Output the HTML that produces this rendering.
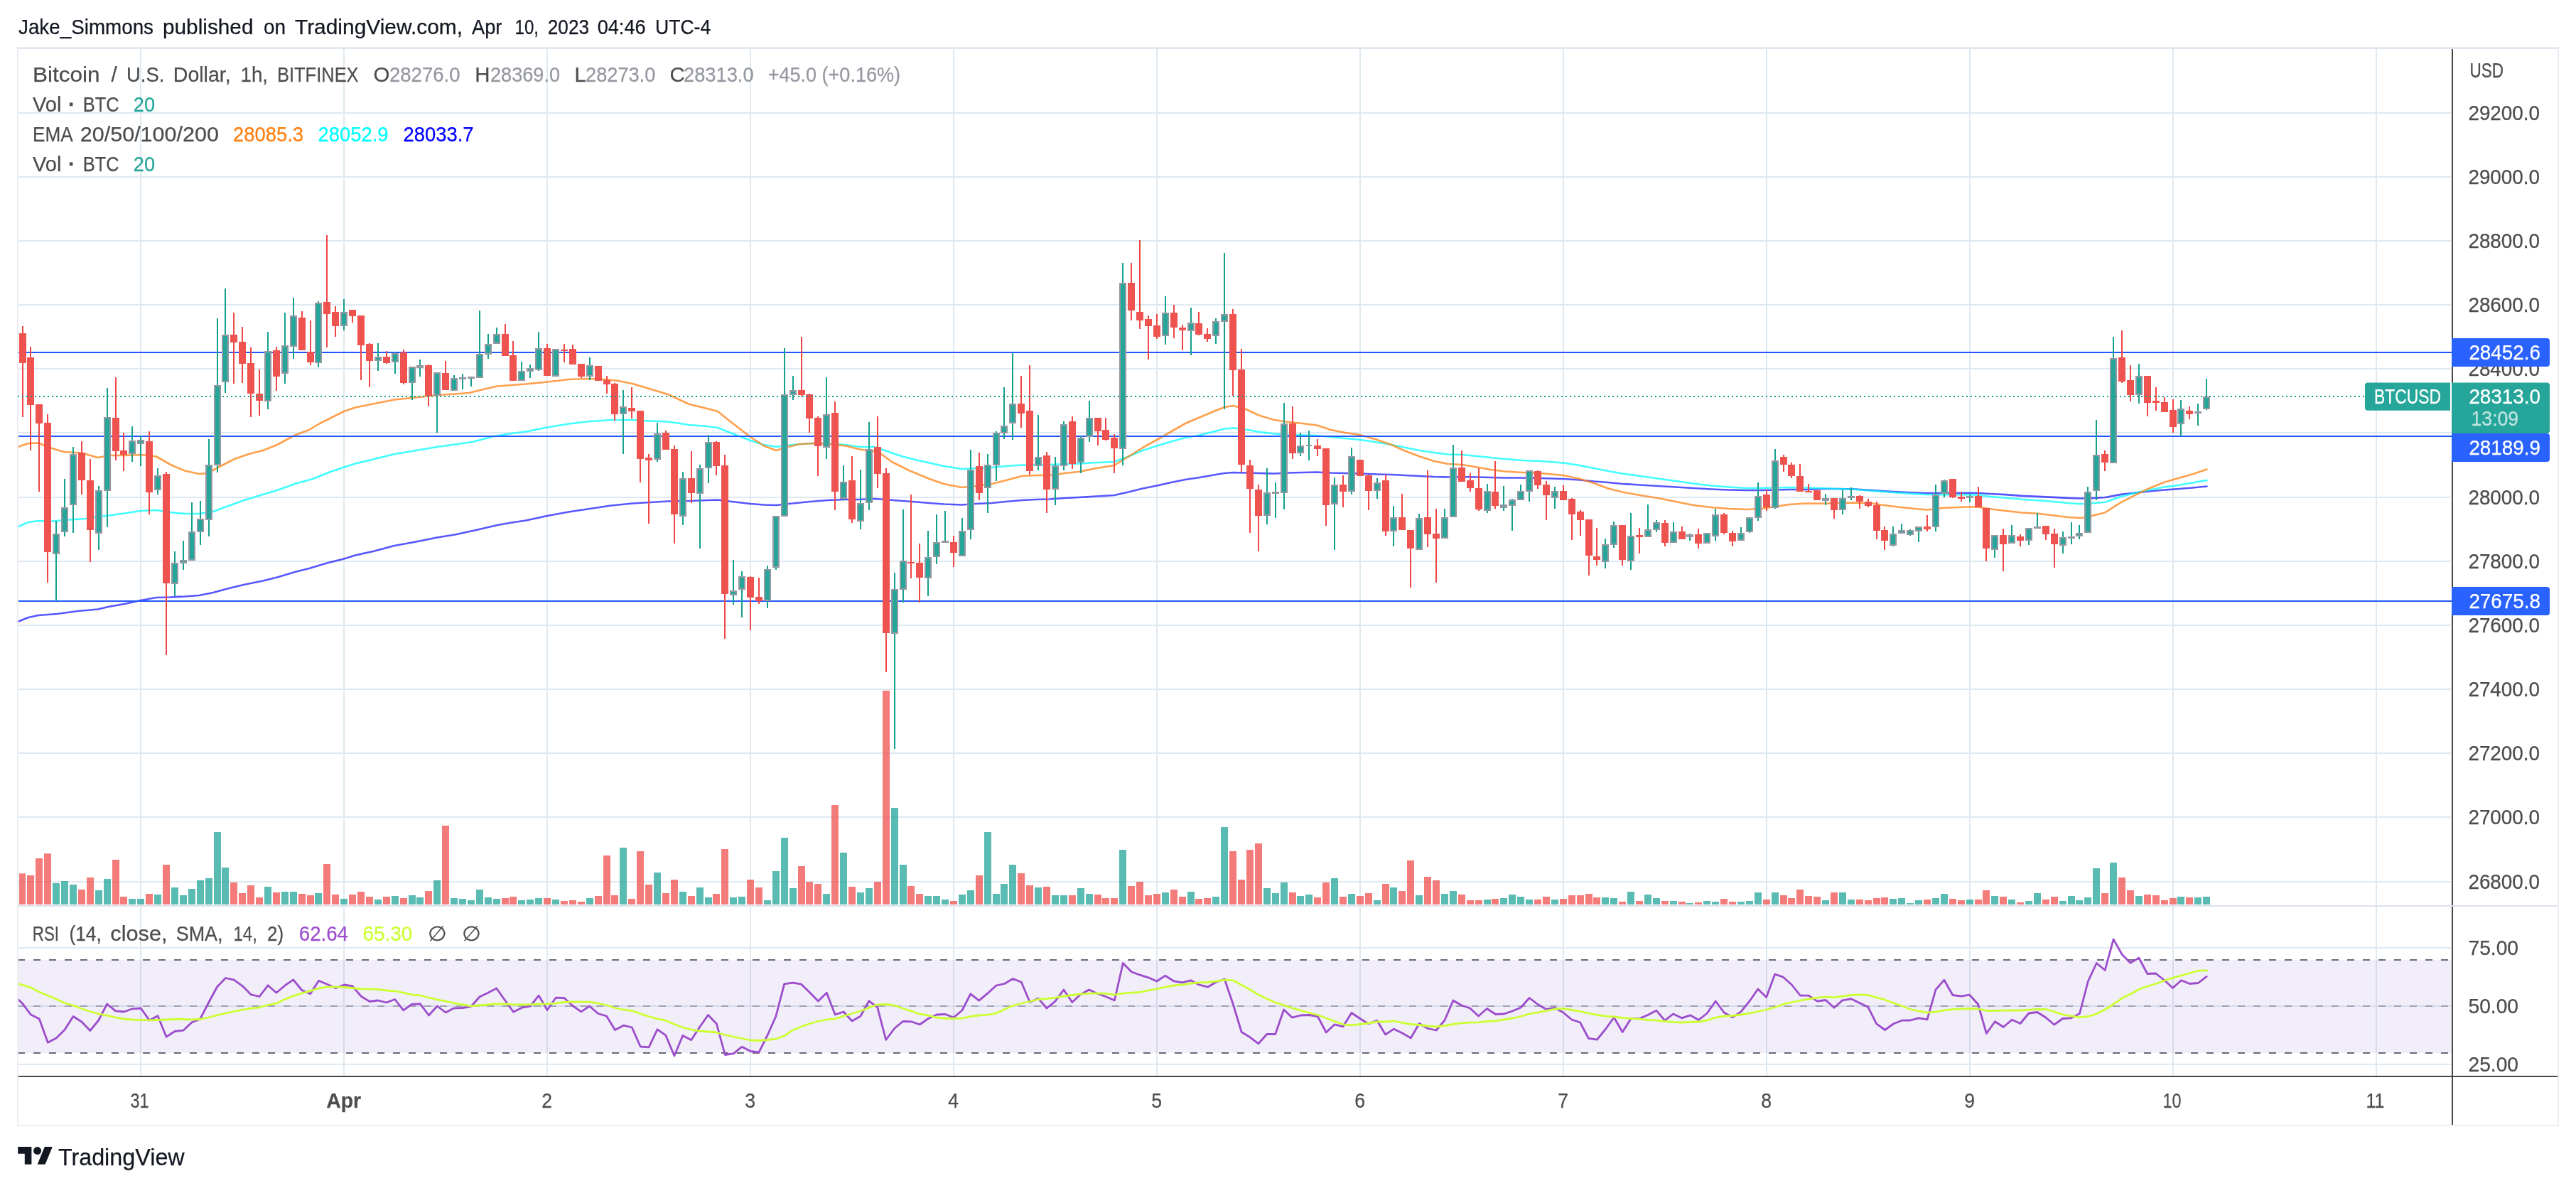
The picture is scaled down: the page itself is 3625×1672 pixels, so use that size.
<!DOCTYPE html>
<html lang="en"><head><meta charset="utf-8"><title>BTCUSD chart</title>
<style>html,body{margin:0;padding:0;background:#fff}body{width:3625px;height:1672px;overflow:hidden}svg{display:block;will-change:transform}text{white-space:pre}</style>
</head><body>
<svg width="3625" height="1672" viewBox="0 0 3625 1672" font-family='"Liberation Sans", sans-serif'>
<rect x="0" y="0" width="3625" height="1672" fill="#fff"/>
<path d="M198 68V1514M484 68V1514M770 68V1514M1056 68V1514M1342 68V1514M1628 68V1514M1914 68V1514M2200 68V1514M2486 68V1514M2772 68V1514M3058 68V1514M3344 68V1514M26 159H3449M26 249H3449M26 339H3449M26 429H3449M26 519H3449M26 609H3449M26 700H3449M26 790H3449M26 880H3449M26 970H3449M26 1060H3449M26 1150H3449M26 1241H3449M26 1334H3449M26 1416H3449M26 1498H3449" stroke="#dee9f1" stroke-width="2" fill="none"/>
<rect x="25" y="1351" width="3425" height="131" fill="#7e57c2" fill-opacity="0.1"/>
<path d="M27 1273.0v-43.8h9v43.8zM38 1273.0v-41.0h10v41.0zM50 1273.0v-65.0h10v65.0zM62 1273.0v-71.8h10v71.8zM110 1273.0v-21.0h10v21.0zM122 1273.0v-38.0h10v38.0zM158 1273.0v-63.0h10v63.0zM169 1273.0v-11.0h10v11.0zM205 1273.0v-15.0h10v15.0zM229 1273.0v-56.0h10v56.0zM324 1273.0v-31.0h10v31.0zM336 1273.0v-16.0h10v16.0zM348 1273.0v-27.0h10v27.0zM360 1273.0v-10.0h10v10.0zM384 1273.0v-17.0h10v17.0zM420 1273.0v-15.0h10v15.0zM432 1273.0v-13.0h10v13.0zM455 1273.0v-57.0h10v57.0zM467 1273.0v-14.0h10v14.0zM491 1273.0v-14.0h10v14.0zM503 1273.0v-18.0h10v18.0zM515 1273.0v-11.0h10v11.0zM539 1273.0v-11.0h10v11.0zM563 1273.0v-9.0h10v9.0zM598 1273.0v-19.0h10v19.0zM622 1273.0v-111.0h10v111.0zM706 1273.0v-9.0h10v9.0zM717 1273.0v-11.0h10v11.0zM765 1273.0v-9.0h10v9.0zM789 1273.0v-5.0h10v5.0zM801 1273.0v-6.0h10v6.0zM813 1273.0v-4.0h10v4.0zM837 1273.0v-12.0h10v12.0zM849 1273.0v-69.0h10v69.0zM860 1273.0v-13.0h10v13.0zM884 1273.0v-8.0h10v8.0zM896 1273.0v-75.0h10v75.0zM908 1273.0v-28.0h10v28.0zM932 1273.0v-16.0h10v16.0zM944 1273.0v-35.0h10v35.0zM968 1273.0v-12.0h10v12.0zM1003 1273.0v-15.0h10v15.0zM1015 1273.0v-78.0h10v78.0zM1051 1273.0v-35.0h10v35.0zM1063 1273.0v-24.0h10v24.0zM1123 1273.0v-54.0h10v54.0zM1134 1273.0v-32.0h10v32.0zM1146 1273.0v-29.0h10v29.0zM1170 1273.0v-140.0h10v140.0zM1194 1273.0v-25.0h10v25.0zM1230 1273.0v-32.0h10v32.0zM1242 1273.0v-301.0h10v301.0zM1277 1273.0v-26.0h10v26.0zM1289 1273.0v-15.0h10v15.0zM1337 1273.0v-5.0h10v5.0zM1373 1273.0v-41.0h10v41.0zM1432 1273.0v-44.0h10v44.0zM1444 1273.0v-27.0h10v27.0zM1468 1273.0v-25.0h10v25.0zM1504 1273.0v-13.0h10v13.0zM1540 1273.0v-14.0h10v14.0zM1551 1273.0v-9.0h10v9.0zM1563 1273.0v-9.0h10v9.0zM1587 1273.0v-26.0h10v26.0zM1599 1273.0v-32.0h10v32.0zM1611 1273.0v-13.0h10v13.0zM1623 1273.0v-15.0h10v15.0zM1647 1273.0v-21.0h10v21.0zM1659 1273.0v-11.0h10v11.0zM1682 1273.0v-8.0h10v8.0zM1694 1273.0v-9.0h10v9.0zM1730 1273.0v-75.0h10v75.0zM1742 1273.0v-35.0h10v35.0zM1754 1273.0v-77.0h10v77.0zM1766 1273.0v-86.0h10v86.0zM1814 1273.0v-17.0h10v17.0zM1849 1273.0v-10.0h10v10.0zM1861 1273.0v-31.0h10v31.0zM1885 1273.0v-11.0h10v11.0zM1909 1273.0v-12.0h10v12.0zM1921 1273.0v-16.0h10v16.0zM1945 1273.0v-29.0h10v29.0zM1968 1273.0v-19.0h10v19.0zM1980 1273.0v-62.0h10v62.0zM2004 1273.0v-39.0h10v39.0zM2016 1273.0v-34.0h10v34.0zM2052 1273.0v-14.0h10v14.0zM2064 1273.0v-6.0h10v6.0zM2076 1273.0v-6.0h10v6.0zM2099 1273.0v-8.0h10v8.0zM2159 1273.0v-7.0h10v7.0zM2171 1273.0v-11.0h10v11.0zM2195 1273.0v-8.0h10v8.0zM2207 1273.0v-13.0h10v13.0zM2219 1273.0v-13.0h10v13.0zM2231 1273.0v-15.0h10v15.0zM2242 1273.0v-10.0h10v10.0zM2278 1273.0v-4.0h10v4.0zM2302 1273.0v-5.0h10v5.0zM2338 1273.0v-5.0h10v5.0zM2362 1273.0v-4.0h10v4.0zM2385 1273.0v-3.0h10v3.0zM2421 1273.0v-8.0h10v8.0zM2433 1273.0v-4.0h10v4.0zM2481 1273.0v-7.0h10v7.0zM2505 1273.0v-13.0h10v13.0zM2516 1273.0v-9.0h10v9.0zM2528 1273.0v-21.0h10v21.0zM2540 1273.0v-12.0h10v12.0zM2552 1273.0v-11.0h10v11.0zM2576 1273.0v-17.0h10v17.0zM2612 1273.0v-7.0h10v7.0zM2624 1273.0v-6.0h10v6.0zM2636 1273.0v-9.0h10v9.0zM2647 1273.0v-10.0h10v10.0zM2707 1273.0v-7.0h10v7.0zM2743 1273.0v-8.0h10v8.0zM2755 1273.0v-6.0h10v6.0zM2779 1273.0v-7.0h10v7.0zM2790 1273.0v-20.0h10v20.0zM2814 1273.0v-11.0h10v11.0zM2838 1273.0v-3.0h10v3.0zM2874 1273.0v-7.0h10v7.0zM2886 1273.0v-11.0h10v11.0zM2957 1273.0v-16.0h10v16.0zM2981 1273.0v-38.0h10v38.0zM2993 1273.0v-20.0h10v20.0zM3017 1273.0v-14.0h10v14.0zM3029 1273.0v-13.0h10v13.0zM3041 1273.0v-6.0h10v6.0zM3053 1273.0v-9.0h10v9.0zM3076 1273.0v-10.0h10v10.0z" fill="#ef5350" fill-opacity="0.76"/>
<path d="M74 1273.0v-30.0h10v30.0zM86 1273.0v-33.0h10v33.0zM98 1273.0v-28.0h10v28.0zM134 1273.0v-20.0h10v20.0zM146 1273.0v-36.0h10v36.0zM181 1273.0v-8.0h10v8.0zM193 1273.0v-8.0h10v8.0zM217 1273.0v-14.0h10v14.0zM241 1273.0v-24.0h10v24.0zM253 1273.0v-13.0h10v13.0zM265 1273.0v-22.0h10v22.0zM277 1273.0v-34.0h10v34.0zM289 1273.0v-37.0h10v37.0zM301 1273.0v-102.0h10v102.0zM312 1273.0v-52.0h10v52.0zM372 1273.0v-25.0h10v25.0zM396 1273.0v-18.0h10v18.0zM408 1273.0v-18.0h10v18.0zM443 1273.0v-16.0h10v16.0zM479 1273.0v-8.0h10v8.0zM527 1273.0v-7.0h10v7.0zM551 1273.0v-12.0h10v12.0zM575 1273.0v-13.0h10v13.0zM586 1273.0v-10.0h10v10.0zM610 1273.0v-34.0h10v34.0zM634 1273.0v-9.0h10v9.0zM646 1273.0v-8.0h10v8.0zM658 1273.0v-6.0h10v6.0zM670 1273.0v-21.0h10v21.0zM682 1273.0v-10.0h10v10.0zM694 1273.0v-8.0h10v8.0zM729 1273.0v-6.0h10v6.0zM741 1273.0v-7.0h10v7.0zM753 1273.0v-9.0h10v9.0zM777 1273.0v-7.0h10v7.0zM825 1273.0v-9.0h10v9.0zM872 1273.0v-80.0h10v80.0zM920 1273.0v-45.0h10v45.0zM956 1273.0v-18.0h10v18.0zM980 1273.0v-24.0h10v24.0zM992 1273.0v-10.0h10v10.0zM1027 1273.0v-10.0h10v10.0zM1039 1273.0v-11.0h10v11.0zM1075 1273.0v-6.0h10v6.0zM1087 1273.0v-47.0h10v47.0zM1099 1273.0v-94.0h10v94.0zM1111 1273.0v-23.0h10v23.0zM1158 1273.0v-15.0h10v15.0zM1182 1273.0v-73.0h10v73.0zM1206 1273.0v-17.0h10v17.0zM1218 1273.0v-23.0h10v23.0zM1254 1273.0v-136.0h10v136.0zM1266 1273.0v-56.0h10v56.0zM1301 1273.0v-12.0h10v12.0zM1313 1273.0v-12.0h10v12.0zM1325 1273.0v-7.0h10v7.0zM1349 1273.0v-14.0h10v14.0zM1361 1273.0v-20.0h10v20.0zM1385 1273.0v-102.0h10v102.0zM1397 1273.0v-15.0h10v15.0zM1408 1273.0v-29.0h10v29.0zM1420 1273.0v-56.0h10v56.0zM1456 1273.0v-24.0h10v24.0zM1480 1273.0v-13.0h10v13.0zM1492 1273.0v-13.0h10v13.0zM1516 1273.0v-23.0h10v23.0zM1528 1273.0v-15.0h10v15.0zM1575 1273.0v-77.0h10v77.0zM1635 1273.0v-17.0h10v17.0zM1671 1273.0v-18.0h10v18.0zM1706 1273.0v-11.0h10v11.0zM1718 1273.0v-109.0h10v109.0zM1778 1273.0v-23.0h10v23.0zM1790 1273.0v-16.0h10v16.0zM1802 1273.0v-31.0h10v31.0zM1825 1273.0v-12.0h10v12.0zM1837 1273.0v-14.0h10v14.0zM1873 1273.0v-37.0h10v37.0zM1897 1273.0v-15.0h10v15.0zM1933 1273.0v-6.0h10v6.0zM1956 1273.0v-24.0h10v24.0zM1992 1273.0v-13.0h10v13.0zM2028 1273.0v-15.0h10v15.0zM2040 1273.0v-19.0h10v19.0zM2088 1273.0v-7.0h10v7.0zM2111 1273.0v-9.0h10v9.0zM2123 1273.0v-14.0h10v14.0zM2135 1273.0v-11.0h10v11.0zM2147 1273.0v-7.0h10v7.0zM2183 1273.0v-7.0h10v7.0zM2254 1273.0v-10.0h10v10.0zM2266 1273.0v-9.0h10v9.0zM2290 1273.0v-18.0h10v18.0zM2314 1273.0v-14.0h10v14.0zM2326 1273.0v-9.0h10v9.0zM2350 1273.0v-5.0h10v5.0zM2373 1273.0v-2.0h10v2.0zM2397 1273.0v-5.0h10v5.0zM2409 1273.0v-4.0h10v4.0zM2445 1273.0v-4.0h10v4.0zM2457 1273.0v-5.0h10v5.0zM2469 1273.0v-17.0h10v17.0zM2493 1273.0v-17.0h10v17.0zM2564 1273.0v-6.0h10v6.0zM2588 1273.0v-17.0h10v17.0zM2600 1273.0v-7.0h10v7.0zM2659 1273.0v-8.0h10v8.0zM2671 1273.0v-9.0h10v9.0zM2683 1273.0v-2.0h10v2.0zM2695 1273.0v-6.0h10v6.0zM2719 1273.0v-9.0h10v9.0zM2731 1273.0v-15.0h10v15.0zM2767 1273.0v-7.0h10v7.0zM2802 1273.0v-12.0h10v12.0zM2826 1273.0v-7.0h10v7.0zM2850 1273.0v-5.0h10v5.0zM2862 1273.0v-16.0h10v16.0zM2898 1273.0v-5.0h10v5.0zM2910 1273.0v-12.0h10v12.0zM2921 1273.0v-6.0h10v6.0zM2933 1273.0v-10.0h10v10.0zM2945 1273.0v-51.0h10v51.0zM2969 1273.0v-59.0h10v59.0zM3005 1273.0v-12.0h10v12.0zM3064 1273.0v-11.0h10v11.0zM3088 1273.0v-10.0h10v10.0zM3100 1273.0v-11.0h10v11.0z" fill="#26a69a" fill-opacity="0.76"/>
<path d="M25.0 875.0L40.0 869.0L54.0 866.0L80.0 864.0L110.0 860.0L137.5 857.5L155.0 853.5L175.0 850.0L198.0 845.0L220.0 841.0L240.0 840.5L260.0 839.5L280.0 838.0L300.0 834.0L320.0 828.5L345.0 822.5L370.0 817.5L390.0 812.5L415.0 805.0L435.0 800.0L460.0 792.5L484.0 786.5L500.0 781.5L525.0 776.0L555.0 768.0L580.0 763.5L615.0 756.5L640.0 752.5L670.0 746.0L700.0 739.0L720.0 735.5L740.0 732.5L770.0 726.0L800.0 720.5L830.0 716.0L860.0 711.5L890.0 708.5L915.0 707.0L940.0 705.5L970.0 705.0L995.0 704.0L1010.0 703.5L1030.0 706.0L1056.0 709.0L1075.0 710.5L1092.5 711.0L1115.0 708.5L1140.0 706.0L1165.0 704.0L1190.0 703.0L1210.0 703.0L1230.0 702.0L1245.0 703.0L1270.0 705.0L1290.0 706.5L1308.0 708.0L1328.0 709.5L1353.0 710.5L1373.0 709.0L1395.5 708.0L1415.5 706.0L1438.0 704.0L1458.0 703.0L1478.0 702.5L1498.0 701.0L1518.0 700.0L1543.0 698.5L1568.0 697.0L1588.0 692.5L1608.0 687.5L1628.0 683.5L1648.0 679.0L1668.0 675.0L1688.0 672.0L1708.0 668.5L1723.0 666.0L1735.5 665.0L1753.0 665.5L1773.0 666.0L1793.0 666.5L1813.0 665.5L1833.0 665.0L1853.0 664.5L1873.0 665.5L1893.0 666.0L1914.0 666.5L1938.0 667.5L1958.0 668.0L1978.0 669.0L1998.0 670.0L2018.0 671.0L2038.0 671.5L2058.0 671.0L2078.0 671.5L2098.0 672.0L2118.0 672.5L2143.0 672.5L2168.0 673.0L2200.0 674.0L2223.0 675.5L2243.0 677.5L2263.0 679.0L2283.0 681.0L2308.0 682.5L2333.0 684.0L2358.0 685.5L2383.0 687.0L2408.0 688.5L2433.0 689.5L2458.0 690.0L2478.0 690.0L2498.0 689.5L2518.0 689.0L2543.0 689.0L2560.0 688.0L2585.0 688.0L2610.0 688.5L2635.0 690.2L2660.0 691.8L2685.0 693.0L2710.0 694.0L2735.0 694.0L2760.0 693.8L2772.5 693.8L2785.0 694.0L2800.0 695.0L2822.5 696.2L2845.0 697.8L2867.5 698.8L2890.0 699.8L2910.0 700.8L2927.5 701.5L2937.5 701.2L2947.5 700.8L2962.5 700.0L2985.0 695.8L3010.0 693.0L3025.0 691.5L3045.0 689.5L3060.0 688.5L3085.0 686.5L3105.5 684.5" fill="none" stroke="#0000ff" stroke-opacity="0.66" stroke-width="2.7" stroke-linejoin="round" stroke-linecap="round"/>
<path d="M25.0 741.5L40.0 735.0L54.0 733.0L70.0 734.0L90.0 732.0L120.0 730.0L150.0 726.0L175.0 722.5L198.0 719.0L220.0 718.0L240.0 721.0L260.0 723.0L280.0 723.0L300.0 720.0L320.0 712.5L345.0 703.5L370.0 696.0L390.0 690.0L415.0 681.0L440.0 674.0L465.0 664.0L484.0 657.5L500.0 652.5L525.0 646.5L555.0 639.0L580.0 635.0L615.0 629.0L640.0 625.5L665.0 622.0L695.0 614.0L720.0 610.0L740.0 607.5L770.0 601.5L800.0 596.5L830.0 593.0L860.0 591.0L890.0 591.0L915.0 592.5L940.0 593.5L970.0 598.0L995.0 600.0L1010.0 602.0L1030.0 610.0L1056.0 620.0L1075.0 626.0L1092.5 629.0L1115.0 626.0L1140.0 624.0L1165.0 624.0L1190.0 626.0L1210.0 629.0L1230.0 629.0L1245.0 634.0L1270.0 642.5L1290.0 647.5L1308.0 651.5L1328.0 656.0L1353.0 660.0L1373.0 659.0L1395.5 658.0L1415.5 656.0L1438.0 654.5L1458.0 654.5L1478.0 654.0L1498.0 653.0L1518.0 652.5L1543.0 651.0L1568.0 650.0L1588.0 642.5L1608.0 634.0L1628.0 627.5L1648.0 621.5L1668.0 616.0L1688.0 612.5L1708.0 607.5L1723.0 603.5L1735.5 602.5L1753.0 604.5L1773.0 608.0L1793.0 610.5L1813.0 612.0L1833.0 612.5L1853.0 613.0L1873.0 615.0L1893.0 617.0L1914.0 619.0L1938.0 622.5L1958.0 626.0L1978.0 630.0L1998.0 634.0L2018.0 637.0L2038.0 639.5L2058.0 640.0L2078.0 642.0L2098.0 644.0L2118.0 646.0L2143.0 648.0L2168.0 649.0L2200.0 651.5L2223.0 655.0L2243.0 659.0L2263.0 663.0L2283.0 666.5L2308.0 670.0L2333.0 673.5L2358.0 677.0L2383.0 680.5L2408.0 683.5L2433.0 685.5L2458.0 687.0L2478.0 687.0L2498.0 686.5L2518.0 686.0L2543.0 686.5L2560.0 687.0L2585.0 688.0L2610.0 688.8L2635.0 690.8L2660.0 692.8L2685.0 694.5L2710.0 696.0L2735.0 696.2L2760.0 696.2L2772.5 696.2L2785.0 697.0L2800.0 698.8L2822.5 700.8L2845.0 702.8L2867.5 704.2L2890.0 706.0L2910.0 708.0L2927.5 709.2L2937.5 709.0L2947.5 708.0L2962.5 706.8L2985.0 698.8L3010.0 692.5L3025.0 689.5L3045.0 685.5L3060.0 683.8L3085.0 679.5L3105.5 675.9" fill="none" stroke="#00ffff" stroke-opacity="0.74" stroke-width="2.6" stroke-linejoin="round" stroke-linecap="round"/>
<path d="M25.0 629.0L40.0 624.0L54.0 623.5L70.0 630.0L90.0 636.0L115.0 637.5L137.5 644.0L155.0 641.0L175.0 641.0L198.0 640.0L220.0 642.5L240.0 654.0L260.0 662.5L280.0 667.0L292.5 666.0L307.5 657.5L330.0 646.0L350.0 639.0L370.0 634.0L390.0 626.0L415.0 612.5L435.0 605.0L450.0 596.0L470.0 586.0L484.0 579.0L500.0 573.5L525.0 568.5L555.0 562.5L580.0 560.0L615.0 556.0L640.0 554.5L660.0 553.0L680.0 548.0L700.0 543.5L720.0 542.0L740.0 540.5L770.0 537.5L800.0 534.0L830.0 533.0L850.0 534.0L870.0 536.0L890.0 540.0L915.0 547.5L940.0 555.0L970.0 569.0L995.0 575.0L1010.0 579.0L1030.0 595.0L1056.0 615.0L1075.0 627.5L1092.5 634.0L1105.0 630.0L1125.0 625.0L1145.0 624.0L1165.0 625.0L1190.0 627.5L1210.0 632.5L1230.0 635.0L1240.0 639.0L1255.0 650.0L1280.0 662.5L1308.0 674.0L1328.0 681.0L1353.0 686.0L1373.0 684.0L1395.5 681.0L1415.5 676.0L1438.0 670.0L1458.0 669.0L1478.0 669.0L1498.0 666.0L1518.0 664.0L1543.0 659.0L1568.0 655.0L1588.0 642.5L1608.0 630.0L1628.0 619.0L1648.0 607.5L1668.0 596.0L1688.0 587.5L1708.0 579.0L1723.0 573.0L1735.5 571.0L1753.0 576.0L1773.0 585.0L1793.0 591.0L1813.0 594.0L1833.0 596.0L1853.0 598.5L1873.0 605.0L1893.0 609.0L1914.0 612.0L1938.0 619.0L1958.0 626.0L1978.0 635.0L1998.0 642.5L2018.0 649.0L2038.0 653.0L2058.0 654.0L2078.0 657.5L2098.0 661.0L2118.0 663.5L2143.0 665.0L2168.0 666.0L2200.0 669.0L2223.0 674.0L2243.0 680.0L2263.0 687.5L2283.0 692.5L2308.0 697.0L2333.0 701.0L2358.0 706.0L2383.0 711.0L2408.0 714.0L2433.0 716.0L2458.0 717.0L2478.0 716.0L2498.0 713.0L2518.0 710.0L2543.0 708.5L2560.0 708.8L2585.0 708.0L2610.0 707.5L2635.0 708.5L2647.5 710.5L2672.5 713.8L2697.5 716.2L2712.5 717.5L2720.0 716.8L2732.5 715.0L2750.0 714.2L2772.5 713.2L2785.0 713.8L2800.0 716.2L2822.5 719.0L2845.0 721.5L2867.5 722.8L2890.0 725.5L2910.0 728.0L2927.5 729.0L2937.5 728.0L2947.5 725.0L2962.5 721.2L2985.0 706.8L3010.0 694.2L3025.0 687.0L3045.0 679.0L3060.0 674.5L3085.0 667.5L3105.5 660.6" fill="none" stroke="#ff7f0e" stroke-opacity="0.74" stroke-width="2.6" stroke-linejoin="round" stroke-linecap="round"/>
<path d="M26 496H3450" stroke="#2259fd" stroke-width="2"/>
<path d="M26 614H3450" stroke="#2259fd" stroke-width="2"/>
<path d="M26 846H3450" stroke="#2259fd" stroke-width="2"/>
<path d="M32 459V587M43 488V634M55 569V692M67 583V820M115 621V696M127 646V791M163 531V648M174 609V663M210 607V724M234 664V922M329 440V540M341 460V539M353 489V587M365 520V585M389 488V550M425 438V493M437 451V514M460 331V489M472 431V474M496 436V454M508 444V535M520 483V545M544 494V512M568 492V541M603 513V572M627 508V549M711 456V501M722 480V536M770 484V529M794 484V510M806 485V513M818 512V532M842 515V536M854 529V554M865 539V592M889 545V589M901 578V679M913 639V737M937 606V633M949 627V765M973 635V708M1008 621V669M1020 640V899M1056 811V887M1068 813V850M1128 474V558M1139 554V609M1151 586V670M1175 565V718M1199 642V736M1235 586V687M1247 659V946M1282 696V814M1294 765V848M1342 754V798M1378 637V704M1437 529V602M1449 514V668M1473 636V722M1509 586V660M1545 588V627M1556 588V620M1568 611V666M1592 370V451M1604 338V463M1616 444V506M1628 442V477M1652 429V476M1664 457V493M1687 439V472M1699 462V481M1735 435V557M1747 491V664M1759 647V750M1771 682V776M1819 572V646M1854 618V642M1866 631V740M1890 669V714M1914 647V670M1926 668V718M1950 668V754M1973 695V746M1985 746V827M2009 662V770M2021 716V820M2057 634V678M2069 666V692M2081 659V719M2104 649V716M2164 662V688M2176 677V732M2200 683V704M2212 701V760M2224 718V754M2236 731V810M2247 743V796M2283 739V796M2307 743V779M2343 732V769M2367 741V759M2390 744V772M2426 722V752M2438 747V769M2486 689V719M2510 640V664M2521 651V673M2533 653V692M2545 681V692M2557 690V704M2581 701V730M2617 697V716M2629 702V714M2641 706V759M2652 741V774M2712 725V748M2748 674V701M2760 692V706M2784 685V714M2795 715V790M2819 744V804M2843 752V769M2879 740V760M2891 744V799M2962 634V663M2986 465V539M2998 514V565M3022 529V586M3034 545V578M3046 559V580M3058 562V609M3081 572V590" stroke="#f04545" stroke-width="2" fill="none"/>
<path d="M79 733V846M91 674V755M103 629V750M139 684V774M151 546V742M186 600V650M198 613V656M222 659V696M246 776V839M258 761V802M270 707V789M282 705V767M294 618V755M306 448V665M317 406V553M377 467V576M401 440V540M413 419V505M448 424V517M484 421V465M532 483V522M556 496V526M580 516V563M591 506V530M615 524V609M639 528V550M651 526V548M663 530V544M675 437V532M687 470V505M699 461V484M734 509V536M746 513V532M758 467V522M782 491V530M830 503V535M877 549V639M925 595V650M961 664V739M985 654V772M997 612V680M1032 788V851M1044 804V869M1080 796V856M1092 726V802M1104 490V727M1116 529V563M1163 531V646M1187 655V704M1211 661V745M1223 594V718M1259 806V1054M1271 717V848M1306 747V839M1318 724V794M1330 719V764M1354 729V783M1366 633V759M1390 639V722M1402 607V677M1413 545V618M1425 497V619M1461 584V662M1485 643V711M1497 593V662M1521 614V666M1533 564V622M1580 370V655M1640 417V485M1676 433V500M1711 448V484M1723 356V576M1783 659V738M1795 679V729M1807 567V717M1830 609V642M1842 606V648M1878 672V774M1902 630V696M1938 673V702M1961 712V769M1997 723V774M2033 716V758M2045 626V728M2093 681V722M2116 684V719M2128 702V747M2140 682V704M2152 662V706M2188 685V716M2259 758V800M2271 734V771M2295 722V802M2319 710V756M2331 732V749M2355 735V764M2378 751V761M2402 750V765M2414 716V761M2450 742V761M2462 728V750M2474 679V733M2498 632V716M2569 695V711M2593 690V724M2605 686V704M2664 741V769M2676 737V751M2688 745V754M2700 741V763M2724 682V748M2736 675V700M2772 696V707M2807 753V785M2831 739V765M2855 743V767M2867 722V744M2903 748V779M2915 735V766M2926 739V759M2938 685V750M2950 591V704M2974 474V652M3010 512V568M3069 563V614M3093 568V599M3105 533V577" stroke="#14a08c" stroke-width="2" fill="none"/>
<path d="M27 469h10v42h-10zM38 503h10v67h-10zM50 569h10v27h-10zM62 595h10v182h-10zM110 637h10v39h-10zM122 676h10v70h-10zM158 588h10v47h-10zM169 634h10v6h-10zM205 621h10v72h-10zM229 667h10v154h-10zM324 471h10v11h-10zM336 481h10v31h-10zM348 511h10v43h-10zM360 554h10v10h-10zM384 493h10v37h-10zM420 447h10v46h-10zM432 495h10v15h-10zM455 425h10v17h-10zM467 439h10v20h-10zM491 436h10v9h-10zM503 444h10v42h-10zM515 484h10v24h-10zM539 502h10v9h-10zM563 496h10v43h-10zM598 514h10v43h-10zM622 525h10v24h-10zM706 470h10v31h-10zM717 500h10v36h-10zM765 490h10v39h-10zM789 492h10v2h-10zM801 491h10v22h-10zM813 512h10v18h-10zM837 515h10v21h-10zM849 535h10v6h-10zM860 540h10v43h-10zM884 574h10v5h-10zM896 578h10v68h-10zM908 644h10v4h-10zM932 609h10v24h-10zM944 632h10v92h-10zM968 673h10v21h-10zM1003 622h10v34h-10zM1015 655h10v181h-10zM1051 812h10v29h-10zM1063 840h10v6h-10zM1123 549h10v7h-10zM1134 555h10v34h-10zM1146 588h10v40h-10zM1170 581h10v111h-10zM1194 676h10v55h-10zM1230 629h10v38h-10zM1242 666h10v225h-10zM1277 791h10v2h-10zM1289 792h10v21h-10zM1337 763h10v15h-10zM1373 656h10v38h-10zM1432 568h10v14h-10zM1444 578h10v85h-10zM1468 641h10v48h-10zM1504 593h10v60h-10zM1540 588h10v19h-10zM1551 605h10v14h-10zM1563 616h10v15h-10zM1587 398h10v39h-10zM1599 439h10v12h-10zM1611 449h10v10h-10zM1623 458h10v16h-10zM1647 440h10v21h-10zM1659 461h10v4h-10zM1682 455h10v16h-10zM1694 470h10v7h-10zM1730 442h10v79h-10zM1742 520h10v134h-10zM1754 655h10v33h-10zM1766 689h10v37h-10zM1814 596h10v42h-10zM1849 627h10v5h-10zM1861 631h10v80h-10zM1885 682h10v10h-10zM1909 647h10v23h-10zM1921 669h10v22h-10zM1945 676h10v72h-10zM1968 728h10v18h-10zM1980 746h10v26h-10zM2004 728h10v24h-10zM2016 751h10v7h-10zM2052 658h10v20h-10zM2064 676h10v11h-10zM2076 687h10v30h-10zM2099 692h10v20h-10zM2159 663h10v20h-10zM2171 682h10v15h-10zM2195 691h10v13h-10zM2207 702h10v22h-10zM2219 720h10v12h-10zM2231 731h10v51h-10zM2242 783h10v5h-10zM2278 739h10v49h-10zM2302 753h10v3h-10zM2338 736h10v28h-10zM2362 748h10v11h-10zM2385 752h10v13h-10zM2421 724h10v26h-10zM2433 750h10v12h-10zM2481 696h10v18h-10zM2505 643h10v11h-10zM2516 654h10v16h-10zM2528 670h10v22h-10zM2540 691h10v2h-10zM2552 690h10v14h-10zM2576 701h10v17h-10zM2612 698h10v8h-10zM2624 706h10v6h-10zM2636 711h10v36h-10zM2647 746h10v15h-10zM2707 741h10v4h-10zM2743 674h10v26h-10zM2755 699h10v3h-10zM2779 698h10v16h-10zM2790 715h10v57h-10zM2814 753h10v13h-10zM2838 755h10v6h-10zM2874 740h10v12h-10zM2886 751h10v15h-10zM2957 639h10v12h-10zM2981 503h10v34h-10zM2993 535h10v21h-10zM3017 529h10v38h-10zM3029 564h10v3h-10zM3041 566h10v14h-10zM3053 577h10v24h-10zM3076 578h10v5h-10z" fill="#ef5350"/>
<path d="M75 752h8v27h-8zM87 715h8v33h-8zM99 640h8v70h-8zM135 691h8v59h-8zM147 588h8v102h-8zM182 621h8v17h-8zM194 620h8v4h-8zM218 670h8v19h-8zM242 793h8v28h-8zM254 789h8v3h-8zM266 749h8v39h-8zM278 731h8v17h-8zM290 655h8v76h-8zM302 543h8v111h-8zM313 472h8v65h-8zM373 495h8v69h-8zM397 487h8v38h-8zM409 445h8v42h-8zM444 427h8v83h-8zM480 440h8v18h-8zM528 503h8v4h-8zM552 498h8v11h-8zM576 517h8v21h-8zM587 515h8v2h-8zM611 525h8v31h-8zM635 533h8v16h-8zM647 532h8v1h-8zM659 531h8v1h-8zM671 499h8v32h-8zM683 485h8v13h-8zM695 471h8v12h-8zM730 523h8v12h-8zM742 519h8v3h-8zM754 491h8v29h-8zM778 492h8v37h-8zM826 515h8v14h-8zM873 573h8v9h-8zM921 611h8v35h-8zM957 674h8v52h-8zM981 660h8v34h-8zM993 623h8v35h-8zM1028 832h8v5h-8zM1040 812h8v17h-8zM1076 802h8v43h-8zM1088 727h8v71h-8zM1100 556h8v170h-8zM1112 550h8v5h-8zM1159 584h8v45h-8zM1183 679h8v22h-8zM1207 709h8v24h-8zM1219 633h8v74h-8zM1255 830h8v61h-8zM1267 790h8v39h-8zM1302 785h8v28h-8zM1314 764h8v19h-8zM1326 762h8v1h-8zM1350 748h8v34h-8zM1362 662h8v83h-8zM1386 655h8v31h-8zM1398 610h8v44h-8zM1409 600h8v9h-8zM1421 569h8v26h-8zM1457 644h8v11h-8zM1481 656h8v32h-8zM1493 598h8v57h-8zM1517 617h8v33h-8zM1529 589h8v25h-8zM1576 399h8v232h-8zM1636 441h8v31h-8zM1672 455h8v10h-8zM1707 453h8v19h-8zM1719 443h8v9h-8zM1779 694h8v31h-8zM1791 693h8v1h-8zM1803 597h8v96h-8zM1826 628h8v9h-8zM1838 627h8v0h-8zM1874 683h8v26h-8zM1898 643h8v48h-8zM1934 680h8v10h-8zM1957 729h8v18h-8zM1993 730h8v43h-8zM2029 729h8v28h-8zM2041 659h8v68h-8zM2089 692h8v26h-8zM2112 711h8v3h-8zM2124 704h8v7h-8zM2136 692h8v11h-8zM2148 663h8v28h-8zM2184 692h8v8h-8zM2255 767h8v23h-8zM2267 740h8v26h-8zM2291 755h8v34h-8zM2315 746h8v9h-8zM2327 736h8v9h-8zM2351 749h8v14h-8zM2374 753h8v2h-8zM2398 751h8v13h-8zM2410 725h8v29h-8zM2446 751h8v9h-8zM2458 729h8v19h-8zM2470 699h8v29h-8zM2494 649h8v65h-8zM2565 702h8v2h-8zM2589 702h8v15h-8zM2601 699h8v1h-8zM2660 752h8v15h-8zM2672 747h8v3h-8zM2684 747h8v5h-8zM2696 742h8v5h-8zM2720 697h8v44h-8zM2732 677h8v17h-8zM2768 699h8v1h-8zM2803 754h8v19h-8zM2827 754h8v10h-8zM2851 744h8v16h-8zM2863 742h8v1h-8zM2899 757h8v10h-8zM2911 756h8v1h-8zM2922 751h8v3h-8zM2934 693h8v56h-8zM2946 641h8v49h-8zM2970 505h8v146h-8zM3006 530h8v25h-8zM3065 576h8v20h-8zM3089 580h8v1h-8zM3101 559h8v16h-8z" fill="#26a69a" stroke="#9598a1" stroke-width="2"/>
<path d="M25 1351H3450" stroke="#686a79" stroke-opacity="1" stroke-width="2" stroke-dasharray="10 12" fill="none"/>
<path d="M25 1416H3450" stroke="#686a79" stroke-opacity="0.5" stroke-width="2" stroke-dasharray="10 12" fill="none"/>
<path d="M25 1482H3450" stroke="#686a79" stroke-opacity="1" stroke-width="2" stroke-dasharray="10 12" fill="none"/>
<path d="M25.5 1406.5L31.5 1412.2L43.4 1428.0L55.3 1434.0L67.3 1467.2L79.2 1461.0L91.1 1449.2L103.0 1430.5L114.9 1438.0L126.8 1450.5L138.7 1436.0L150.6 1413.0L162.6 1422.8L174.5 1424.0L186.4 1419.8L198.3 1419.0L210.2 1436.0L222.1 1429.8L234.0 1459.2L246.0 1451.5L257.9 1450.2L269.8 1439.0L281.7 1434.2L293.6 1411.0L305.5 1389.0L317.4 1376.5L329.3 1379.2L341.3 1387.8L353.2 1399.8L365.1 1402.5L377.0 1386.8L388.9 1397.2L400.8 1387.2L412.7 1378.8L424.7 1393.5L436.6 1398.8L448.5 1380.2L460.4 1385.2L472.3 1390.8L484.2 1386.0L496.1 1388.0L508.1 1402.2L520.0 1409.5L531.9 1408.0L543.8 1411.0L555.7 1406.5L567.6 1421.8L579.5 1413.5L591.4 1412.8L603.4 1429.0L615.3 1416.0L627.2 1425.0L639.1 1418.8L651.0 1418.5L662.9 1416.5L674.8 1403.0L686.8 1397.2L698.7 1391.0L710.6 1407.8L722.5 1424.2L734.4 1418.2L746.3 1416.0L758.2 1401.2L770.1 1421.5L782.1 1404.2L794.0 1404.5L805.9 1415.5L817.8 1423.8L829.7 1416.0L841.6 1426.5L853.5 1430.0L865.5 1449.5L877.4 1443.2L889.3 1446.0L901.2 1473.0L913.1 1473.8L925.0 1448.8L936.9 1457.2L948.9 1486.0L960.8 1457.5L972.7 1463.8L984.6 1445.5L996.5 1428.5L1008.4 1441.0L1020.3 1484.5L1032.2 1482.8L1044.2 1473.2L1056.1 1479.5L1068.0 1480.8L1079.9 1457.2L1091.8 1430.5L1103.7 1384.8L1115.6 1383.2L1127.6 1385.2L1139.5 1396.8L1151.4 1409.0L1163.3 1397.2L1175.2 1428.0L1187.1 1424.0L1199.0 1437.0L1210.9 1430.2L1222.9 1408.8L1234.8 1417.8L1246.7 1463.5L1258.6 1447.5L1270.5 1437.5L1282.4 1437.8L1294.3 1442.0L1306.3 1433.5L1318.2 1428.0L1330.1 1427.5L1342.0 1432.0L1353.9 1422.0L1365.8 1398.8L1377.7 1408.2L1389.7 1398.2L1401.6 1387.2L1413.5 1384.5L1425.4 1377.5L1437.3 1382.2L1449.2 1410.5L1461.1 1405.2L1473.0 1419.0L1485.0 1409.2L1496.9 1393.0L1508.8 1410.5L1520.7 1399.5L1532.6 1393.0L1544.5 1398.5L1556.4 1402.8L1568.4 1408.0L1580.3 1355.5L1592.2 1367.8L1604.1 1372.2L1616.0 1375.8L1627.9 1381.0L1639.8 1373.2L1651.7 1380.8L1663.7 1382.8L1675.6 1379.8L1687.5 1386.0L1699.4 1389.2L1711.3 1382.2L1723.2 1378.0L1735.1 1413.0L1747.1 1452.5L1759.0 1459.8L1770.9 1468.8L1782.8 1455.5L1794.7 1455.5L1806.6 1421.0L1818.5 1432.2L1830.4 1429.0L1842.4 1428.5L1854.3 1430.5L1866.2 1453.0L1878.1 1441.8L1890.0 1444.8L1901.9 1425.5L1913.8 1433.5L1925.8 1441.0L1937.7 1436.2L1949.6 1456.0L1961.5 1448.2L1973.4 1454.0L1985.3 1461.0L1997.2 1440.5L2009.2 1447.5L2021.1 1450.0L2033.0 1436.0L2044.9 1408.0L2056.8 1415.0L2068.7 1419.0L2080.6 1430.0L2092.5 1419.5L2104.5 1427.5L2116.4 1427.0L2128.3 1423.0L2140.2 1418.0L2152.1 1404.5L2164.0 1413.5L2175.9 1420.5L2187.9 1418.5L2199.8 1425.0L2211.7 1435.0L2223.6 1439.0L2235.5 1461.5L2247.4 1463.2L2259.3 1448.5L2271.2 1432.0L2283.2 1452.5L2295.1 1433.5L2307.0 1433.5L2318.9 1428.5L2330.8 1422.2L2342.7 1436.2L2354.6 1427.0L2366.6 1432.8L2378.5 1428.8L2390.4 1435.5L2402.3 1426.0L2414.2 1409.0L2426.1 1425.0L2438.0 1431.8L2450.0 1423.8L2461.9 1409.2L2473.8 1392.0L2485.7 1403.5L2497.6 1371.2L2509.5 1375.2L2521.4 1386.0L2533.3 1401.0L2545.3 1401.2L2557.2 1409.2L2569.1 1407.5L2581.0 1418.2L2592.9 1407.8L2604.8 1405.8L2616.7 1411.5L2628.7 1417.2L2640.6 1440.8L2652.5 1449.5L2664.4 1441.0L2676.3 1436.2L2688.2 1436.0L2700.1 1432.8L2712.0 1434.8L2724.0 1392.8L2735.9 1379.2L2747.8 1400.5L2759.7 1402.2L2771.6 1400.2L2783.5 1413.2L2795.4 1454.5L2807.4 1437.8L2819.3 1445.5L2831.2 1435.2L2843.1 1440.5L2855.0 1426.0L2866.9 1424.5L2878.8 1432.0L2890.8 1442.2L2902.7 1433.5L2914.6 1432.8L2926.5 1426.5L2938.4 1381.0L2950.3 1355.5L2962.2 1365.5L2974.1 1321.9L2986.1 1343.2L2998.0 1355.2L3009.9 1348.1L3021.8 1370.5L3033.7 1370.0L3045.6 1379.5L3057.5 1390.5L3069.5 1379.8L3081.4 1384.5L3093.3 1383.5L3105.2 1374.4" fill="none" stroke="#9c4dcc" stroke-width="2.8" stroke-linejoin="round" stroke-linecap="round"/>
<path d="M25.5 1384.8L31.2 1386.0L43.0 1389.8L55.0 1396.0L67.0 1401.0L78.8 1406.0L90.8 1411.5L102.8 1415.0L114.5 1419.5L126.5 1423.5L138.5 1426.8L150.2 1429.2L162.2 1431.8L174.2 1434.0L186.0 1435.0L198.0 1435.5L210.0 1435.8L221.8 1435.5L233.8 1435.0L245.8 1434.5L257.5 1434.5L269.5 1435.0L281.5 1434.5L293.2 1432.0L305.2 1428.8L317.2 1426.2L329.0 1423.5L341.0 1421.2L353.0 1419.2L364.8 1418.0L376.8 1414.5L388.8 1412.2L400.5 1406.5L412.5 1401.8L424.5 1397.8L436.2 1394.8L448.2 1391.0L460.2 1389.2L472.0 1388.8L484.0 1389.5L496.0 1390.5L507.8 1391.8L519.8 1392.2L531.8 1392.5L543.5 1394.0L555.5 1394.8L567.5 1397.2L579.2 1399.8L591.2 1401.0L603.2 1404.0L615.0 1406.8L627.0 1409.2L639.0 1411.8L650.8 1414.0L662.8 1415.8L674.8 1415.0L686.5 1414.0L698.5 1412.8L710.5 1413.0L722.2 1413.8L734.2 1414.0L746.2 1413.8L758.0 1413.2L770.0 1412.8L782.0 1411.8L793.8 1410.5L805.8 1410.0L817.8 1410.2L829.5 1410.2L841.5 1412.0L853.5 1414.5L865.2 1418.5L877.2 1421.0L889.2 1422.5L901.0 1426.8L913.0 1430.5L925.0 1433.8L936.8 1436.2L948.8 1441.5L960.8 1446.0L972.5 1449.2L984.5 1451.0L996.5 1452.0L1008.2 1453.0L1020.2 1456.5L1032.2 1459.0L1044.0 1461.5L1056.0 1464.0L1068.0 1464.5L1079.8 1463.5L1091.8 1462.2L1103.8 1457.8L1115.5 1449.8L1127.5 1445.0L1139.5 1440.5L1151.2 1437.5L1163.2 1435.0L1175.2 1433.8L1187.0 1430.0L1199.0 1426.5L1211.0 1423.0L1222.8 1418.2L1234.8 1413.8L1246.8 1413.5L1258.5 1415.0L1270.5 1419.2L1282.5 1423.2L1294.2 1427.0L1306.2 1429.2L1318.2 1432.0L1330.0 1433.5L1342.0 1433.5L1354.0 1433.2L1365.8 1430.5L1377.8 1429.0L1389.8 1428.2L1401.5 1426.2L1413.5 1420.5L1425.5 1415.5L1437.2 1412.0L1449.2 1409.5L1461.2 1406.5L1473.0 1405.5L1485.0 1404.2L1497.0 1402.0L1508.8 1400.5L1520.8 1399.0L1532.8 1398.2L1544.5 1397.8L1556.5 1398.5L1568.5 1400.2L1580.2 1398.2L1592.2 1397.2L1604.2 1396.5L1616.0 1393.8L1628.0 1391.8L1640.0 1389.0L1651.8 1387.0L1663.8 1386.0L1675.8 1384.0L1687.5 1382.8L1699.5 1382.5L1711.5 1381.0L1723.2 1379.2L1735.2 1379.8L1747.2 1386.2L1759.0 1392.8L1771.0 1400.2L1783.0 1405.8L1794.8 1411.0L1806.8 1414.8L1818.8 1418.8L1830.5 1422.2L1842.5 1425.5L1854.5 1428.5L1866.2 1433.0L1878.2 1437.5L1890.2 1441.8L1902.0 1442.8L1914.0 1441.5L1926.0 1440.0L1937.8 1438.0L1949.8 1438.0L1961.8 1437.2L1973.5 1439.5L1985.5 1441.5L1997.5 1442.5L2009.2 1444.0L2021.2 1445.0L2033.2 1443.5L2045.0 1441.5L2057.0 1439.8L2069.0 1439.2L2080.8 1438.8L2092.8 1437.5L2104.8 1436.8L2116.5 1435.0L2128.5 1433.0L2140.5 1430.5L2152.2 1426.8L2164.2 1424.8L2176.2 1422.5L2188.0 1420.2L2200.0 1419.5L2212.0 1421.5L2223.8 1423.5L2235.8 1426.2L2247.8 1428.5L2259.5 1430.2L2271.5 1431.0L2283.5 1432.5L2295.2 1433.5L2307.2 1434.2L2319.2 1435.5L2331.0 1436.2L2343.0 1437.5L2355.0 1438.5L2366.8 1439.0L2378.8 1438.5L2390.8 1438.0L2402.5 1436.0L2414.5 1432.2L2426.5 1430.0L2438.2 1429.5L2450.2 1428.0L2462.2 1426.2L2474.0 1423.5L2486.0 1421.0L2498.0 1417.5L2509.8 1413.2L2521.8 1410.5L2533.8 1408.0L2545.5 1406.0L2557.5 1404.2L2569.5 1403.2L2581.2 1403.8L2593.2 1402.2L2605.2 1400.5L2617.0 1399.8L2629.0 1400.5L2641.0 1403.8L2652.8 1407.2L2664.8 1411.8L2676.8 1416.0L2688.5 1420.5L2700.5 1423.0L2712.5 1425.2L2724.2 1424.0L2736.2 1421.8L2748.2 1420.5L2760.0 1420.0L2772.0 1419.5L2784.0 1419.8L2795.8 1422.5L2807.8 1422.5L2819.8 1422.2L2831.5 1422.0L2843.5 1422.0L2855.5 1421.2L2867.2 1420.5L2879.2 1420.5L2891.2 1424.2L2903.0 1427.8L2915.0 1430.0L2927.0 1431.8L2938.8 1430.5L2950.8 1426.8L2962.8 1420.5L2974.5 1413.0L2986.5 1404.8L2998.5 1398.8L3010.2 1392.2L3022.2 1388.0L3034.2 1384.5L3046.0 1380.0L3058.0 1376.2L3070.0 1372.8L3081.8 1369.5L3093.8 1366.2L3105.8 1365.9" fill="none" stroke="#ccff33" stroke-width="2.8" stroke-linejoin="round" stroke-linecap="round"/>
<path d="M25 66V1585M3600 66V1585M24 1584H3601M24 67H3601" stroke="#ecedf5" stroke-width="2" fill="none"/>
<path d="M24 68H3601" stroke="#dfe6ef" stroke-width="2" fill="none"/>
<path d="M3451 69V1583M26 1515H3599" stroke="#464646" stroke-width="2" fill="none"/>
<rect x="3450" y="1274" width="2" height="2" fill="#fff"/>
<path d="M26 1275H3599" stroke="#dee1ec" stroke-width="2"/>
<text x="26.0" y="48.3" font-size="29.4" fill="#131722" stroke="#131722" stroke-width="0.25" textLength="190.0" lengthAdjust="spacingAndGlyphs">Jake_Simmons</text>
<text x="229.0" y="48.3" font-size="29.4" fill="#131722" stroke="#131722" stroke-width="0.25" textLength="127.5" lengthAdjust="spacingAndGlyphs">published</text>
<text x="371.0" y="48.3" font-size="29.4" fill="#131722" stroke="#131722" stroke-width="0.25" textLength="31.0" lengthAdjust="spacingAndGlyphs">on</text>
<text x="415.0" y="48.3" font-size="29.4" fill="#131722" stroke="#131722" stroke-width="0.25" textLength="236.0" lengthAdjust="spacingAndGlyphs">TradingView.com,</text>
<text x="664.0" y="48.3" font-size="29.4" fill="#131722" stroke="#131722" stroke-width="0.25" textLength="42.4" lengthAdjust="spacingAndGlyphs">Apr</text>
<text x="724.5" y="48.3" font-size="29.4" fill="#131722" stroke="#131722" stroke-width="0.25" textLength="33.5" lengthAdjust="spacingAndGlyphs">10,</text>
<text x="770.8" y="48.3" font-size="29.4" fill="#131722" stroke="#131722" stroke-width="0.25" textLength="58.2" lengthAdjust="spacingAndGlyphs">2023</text>
<text x="840.7" y="48.3" font-size="29.4" fill="#131722" stroke="#131722" stroke-width="0.25" textLength="67.9" lengthAdjust="spacingAndGlyphs">04:46</text>
<text x="922.0" y="48.3" font-size="29.4" fill="#131722" stroke="#131722" stroke-width="0.25" textLength="78.2" lengthAdjust="spacingAndGlyphs">UTC-4</text>
<text x="160.6" y="115.4" font-size="29.4" fill="#4d4d4d" stroke="#4d4d4d" stroke-width="0.25" text-anchor="middle">/</text>
<text x="46.0" y="115.4" font-size="29.4" fill="#4d4d4d" stroke="#4d4d4d" stroke-width="0.25" textLength="94.5" lengthAdjust="spacingAndGlyphs">Bitcoin</text>
<text x="178.0" y="115.4" font-size="29.4" fill="#4d4d4d" stroke="#4d4d4d" stroke-width="0.25" textLength="53.5" lengthAdjust="spacingAndGlyphs">U.S.</text>
<text x="243.8" y="115.4" font-size="29.4" fill="#4d4d4d" stroke="#4d4d4d" stroke-width="0.25" textLength="80.9" lengthAdjust="spacingAndGlyphs">Dollar,</text>
<text x="338.5" y="115.4" font-size="29.4" fill="#4d4d4d" stroke="#4d4d4d" stroke-width="0.25" textLength="38.5" lengthAdjust="spacingAndGlyphs">1h,</text>
<text x="390.0" y="115.4" font-size="29.4" fill="#4d4d4d" stroke="#4d4d4d" stroke-width="0.25" textLength="114.6" lengthAdjust="spacingAndGlyphs">BITFINEX</text>
<text x="525.5" y="115.4" font-size="29.4" fill="#4d4d4d" stroke="#4d4d4d" stroke-width="0.25">O</text>
<text x="548.0" y="115.4" font-size="29.4" fill="#9598a1" stroke="#9598a1" stroke-width="0.25" textLength="99.5" lengthAdjust="spacingAndGlyphs">28276.0</text>
<text x="668.3" y="115.4" font-size="29.4" fill="#4d4d4d" stroke="#4d4d4d" stroke-width="0.25">H</text>
<text x="690.0" y="115.4" font-size="29.4" fill="#9598a1" stroke="#9598a1" stroke-width="0.25" textLength="98.0" lengthAdjust="spacingAndGlyphs">28369.0</text>
<text x="808.4" y="115.4" font-size="29.4" fill="#4d4d4d" stroke="#4d4d4d" stroke-width="0.25">L</text>
<text x="824.0" y="115.4" font-size="29.4" fill="#9598a1" stroke="#9598a1" stroke-width="0.25" textLength="98.4" lengthAdjust="spacingAndGlyphs">28273.0</text>
<text x="942.5" y="115.4" font-size="29.4" fill="#4d4d4d" stroke="#4d4d4d" stroke-width="0.25">C</text>
<text x="962.0" y="115.4" font-size="29.4" fill="#9598a1" stroke="#9598a1" stroke-width="0.25" textLength="98.6" lengthAdjust="spacingAndGlyphs">28313.0</text>
<text x="1080.7" y="115.4" font-size="29.4" fill="#9598a1" stroke="#9598a1" stroke-width="0.25" textLength="186.3" lengthAdjust="spacingAndGlyphs">+45.0 (+0.16%)</text>
<text x="46.0" y="157.3" font-size="29.4" fill="#4d4d4d" stroke="#4d4d4d" stroke-width="0.25" textLength="40.4" lengthAdjust="spacingAndGlyphs">Vol</text>
<text x="116.8" y="157.3" font-size="29.4" fill="#4d4d4d" stroke="#4d4d4d" stroke-width="0.25" textLength="50.9" lengthAdjust="spacingAndGlyphs">BTC</text>
<text x="101.0" y="157.3" font-size="29.4" fill="#4d4d4d" stroke="#4d4d4d" stroke-width="0.25" font-weight="bold" text-anchor="middle">·</text>
<text x="187.8" y="157.3" font-size="29.4" fill="#26a69a" stroke="#26a69a" stroke-width="0.25" textLength="30.2" lengthAdjust="spacingAndGlyphs">20</text>
<text x="46.0" y="241.3" font-size="29.4" fill="#4d4d4d" stroke="#4d4d4d" stroke-width="0.25" textLength="40.4" lengthAdjust="spacingAndGlyphs">Vol</text>
<text x="116.8" y="241.3" font-size="29.4" fill="#4d4d4d" stroke="#4d4d4d" stroke-width="0.25" textLength="50.9" lengthAdjust="spacingAndGlyphs">BTC</text>
<text x="101.0" y="241.3" font-size="29.4" fill="#4d4d4d" stroke="#4d4d4d" stroke-width="0.25" font-weight="bold" text-anchor="middle">·</text>
<text x="187.8" y="241.3" font-size="29.4" fill="#26a69a" stroke="#26a69a" stroke-width="0.25" textLength="30.2" lengthAdjust="spacingAndGlyphs">20</text>
<text x="46.0" y="199.3" font-size="29.4" fill="#4d4d4d" stroke="#4d4d4d" stroke-width="0.25" textLength="56.7" lengthAdjust="spacingAndGlyphs">EMA</text>
<text x="112.8" y="199.3" font-size="29.4" fill="#4d4d4d" stroke="#4d4d4d" stroke-width="0.25" textLength="195.1" lengthAdjust="spacingAndGlyphs">20/50/100/200</text>
<text x="328.0" y="199.3" font-size="29.4" fill="#ff7f0e" stroke="#ff7f0e" stroke-width="0.25" textLength="99.0" lengthAdjust="spacingAndGlyphs">28085.3</text>
<text x="447.5" y="199.3" font-size="29.4" fill="#00ffff" stroke="#00ffff" stroke-width="0.25" textLength="99.0" lengthAdjust="spacingAndGlyphs">28052.9</text>
<text x="567.5" y="199.3" font-size="29.4" fill="#0000ff" stroke="#0000ff" stroke-width="0.25" textLength="99.0" lengthAdjust="spacingAndGlyphs">28033.7</text>
<text x="45.8" y="1323.8" font-size="29.4" fill="#4d4d4d" stroke="#4d4d4d" stroke-width="0.25" textLength="37.2" lengthAdjust="spacingAndGlyphs">RSI</text>
<text x="97.4" y="1323.8" font-size="29.4" fill="#4d4d4d" stroke="#4d4d4d" stroke-width="0.25" textLength="45.4" lengthAdjust="spacingAndGlyphs">(14,</text>
<text x="155.3" y="1323.8" font-size="29.4" fill="#4d4d4d" stroke="#4d4d4d" stroke-width="0.25" textLength="80.2" lengthAdjust="spacingAndGlyphs">close,</text>
<text x="247.7" y="1323.8" font-size="29.4" fill="#4d4d4d" stroke="#4d4d4d" stroke-width="0.25" textLength="65.8" lengthAdjust="spacingAndGlyphs">SMA,</text>
<text x="328.5" y="1323.8" font-size="29.4" fill="#4d4d4d" stroke="#4d4d4d" stroke-width="0.25" textLength="33.3" lengthAdjust="spacingAndGlyphs">14,</text>
<text x="376.0" y="1323.8" font-size="29.4" fill="#4d4d4d" stroke="#4d4d4d" stroke-width="0.25" textLength="23.0" lengthAdjust="spacingAndGlyphs">2)</text>
<text x="420.8" y="1323.8" font-size="29.4" fill="#9c4dcc" stroke="#9c4dcc" stroke-width="0.25" textLength="69.2" lengthAdjust="spacingAndGlyphs">62.64</text>
<text x="510.5" y="1323.8" font-size="29.4" fill="#ccff33" stroke="#ccff33" stroke-width="0.25" textLength="69.8" lengthAdjust="spacingAndGlyphs">65.30</text>
<text x="601.5" y="1323.8" font-size="29.4" fill="#4d4d4d" stroke="#4d4d4d" stroke-width="0.25" textLength="26.4" lengthAdjust="spacingAndGlyphs">∅</text>
<text x="649.5" y="1323.8" font-size="29.4" fill="#4d4d4d" stroke="#4d4d4d" stroke-width="0.25" textLength="26.6" lengthAdjust="spacingAndGlyphs">∅</text>
<text x="3475.6" y="108.6" font-size="29.4" fill="#4d4d4d" stroke="#4d4d4d" stroke-width="0.25" textLength="47.5" lengthAdjust="spacingAndGlyphs">USD</text>
<text x="3473.4" y="169.2" font-size="29.4" fill="#4d4d4d" stroke="#4d4d4d" stroke-width="0.25" textLength="100.7" lengthAdjust="spacingAndGlyphs">29200.0</text>
<text x="3473.4" y="259.2" font-size="29.4" fill="#4d4d4d" stroke="#4d4d4d" stroke-width="0.25" textLength="100.7" lengthAdjust="spacingAndGlyphs">29000.0</text>
<text x="3473.4" y="349.2" font-size="29.4" fill="#4d4d4d" stroke="#4d4d4d" stroke-width="0.25" textLength="100.7" lengthAdjust="spacingAndGlyphs">28800.0</text>
<text x="3473.4" y="439.2" font-size="29.4" fill="#4d4d4d" stroke="#4d4d4d" stroke-width="0.25" textLength="100.7" lengthAdjust="spacingAndGlyphs">28600.0</text>
<text x="3473.4" y="529.2" font-size="29.4" fill="#4d4d4d" stroke="#4d4d4d" stroke-width="0.25" textLength="100.7" lengthAdjust="spacingAndGlyphs">28400.0</text>
<text x="3473.4" y="619.2" font-size="29.4" fill="#4d4d4d" stroke="#4d4d4d" stroke-width="0.25" textLength="100.7" lengthAdjust="spacingAndGlyphs">28200.0</text>
<text x="3473.4" y="710.2" font-size="29.4" fill="#4d4d4d" stroke="#4d4d4d" stroke-width="0.25" textLength="100.7" lengthAdjust="spacingAndGlyphs">28000.0</text>
<text x="3473.4" y="800.2" font-size="29.4" fill="#4d4d4d" stroke="#4d4d4d" stroke-width="0.25" textLength="100.7" lengthAdjust="spacingAndGlyphs">27800.0</text>
<text x="3473.4" y="890.2" font-size="29.4" fill="#4d4d4d" stroke="#4d4d4d" stroke-width="0.25" textLength="100.7" lengthAdjust="spacingAndGlyphs">27600.0</text>
<text x="3473.4" y="980.2" font-size="29.4" fill="#4d4d4d" stroke="#4d4d4d" stroke-width="0.25" textLength="100.7" lengthAdjust="spacingAndGlyphs">27400.0</text>
<text x="3473.4" y="1070.2" font-size="29.4" fill="#4d4d4d" stroke="#4d4d4d" stroke-width="0.25" textLength="100.7" lengthAdjust="spacingAndGlyphs">27200.0</text>
<text x="3473.4" y="1160.2" font-size="29.4" fill="#4d4d4d" stroke="#4d4d4d" stroke-width="0.25" textLength="100.7" lengthAdjust="spacingAndGlyphs">27000.0</text>
<text x="3473.4" y="1251.2" font-size="29.4" fill="#4d4d4d" stroke="#4d4d4d" stroke-width="0.25" textLength="100.7" lengthAdjust="spacingAndGlyphs">26800.0</text>
<text x="3473.5" y="1344.2" font-size="29.4" fill="#4d4d4d" stroke="#4d4d4d" stroke-width="0.25" textLength="70.5" lengthAdjust="spacingAndGlyphs">75.00</text>
<text x="3473.5" y="1426.2" font-size="29.4" fill="#4d4d4d" stroke="#4d4d4d" stroke-width="0.25" textLength="70.5" lengthAdjust="spacingAndGlyphs">50.00</text>
<text x="3473.5" y="1508.2" font-size="29.4" fill="#4d4d4d" stroke="#4d4d4d" stroke-width="0.25" textLength="70.5" lengthAdjust="spacingAndGlyphs">25.00</text>
<text x="196.5" y="1558.8" font-size="29.4" fill="#4d4d4d" stroke="#4d4d4d" stroke-width="0.25" textLength="26.0" lengthAdjust="spacingAndGlyphs" text-anchor="middle">31</text>
<text x="483.7" y="1558.6" font-size="29.4" fill="#4d4d4d" stroke="#4d4d4d" stroke-width="0.25" font-weight="bold" textLength="49.0" lengthAdjust="spacingAndGlyphs" text-anchor="middle">Apr</text>
<text x="769.7" y="1558.8" font-size="29.4" fill="#4d4d4d" stroke="#4d4d4d" stroke-width="0.25" textLength="14.8" lengthAdjust="spacingAndGlyphs" text-anchor="middle">2</text>
<text x="1055.7" y="1558.8" font-size="29.4" fill="#4d4d4d" stroke="#4d4d4d" stroke-width="0.25" textLength="14.8" lengthAdjust="spacingAndGlyphs" text-anchor="middle">3</text>
<text x="1341.7" y="1558.8" font-size="29.4" fill="#4d4d4d" stroke="#4d4d4d" stroke-width="0.25" textLength="14.8" lengthAdjust="spacingAndGlyphs" text-anchor="middle">4</text>
<text x="1627.7" y="1558.8" font-size="29.4" fill="#4d4d4d" stroke="#4d4d4d" stroke-width="0.25" textLength="14.8" lengthAdjust="spacingAndGlyphs" text-anchor="middle">5</text>
<text x="1913.7" y="1558.8" font-size="29.4" fill="#4d4d4d" stroke="#4d4d4d" stroke-width="0.25" textLength="14.8" lengthAdjust="spacingAndGlyphs" text-anchor="middle">6</text>
<text x="2199.7" y="1558.8" font-size="29.4" fill="#4d4d4d" stroke="#4d4d4d" stroke-width="0.25" textLength="14.8" lengthAdjust="spacingAndGlyphs" text-anchor="middle">7</text>
<text x="2485.7" y="1558.8" font-size="29.4" fill="#4d4d4d" stroke="#4d4d4d" stroke-width="0.25" textLength="14.8" lengthAdjust="spacingAndGlyphs" text-anchor="middle">8</text>
<text x="2771.7" y="1558.8" font-size="29.4" fill="#4d4d4d" stroke="#4d4d4d" stroke-width="0.25" textLength="14.8" lengthAdjust="spacingAndGlyphs" text-anchor="middle">9</text>
<text x="3056.5" y="1558.8" font-size="29.4" fill="#4d4d4d" stroke="#4d4d4d" stroke-width="0.25" textLength="26.0" lengthAdjust="spacingAndGlyphs" text-anchor="middle">10</text>
<text x="3342.5" y="1558.8" font-size="29.4" fill="#4d4d4d" stroke="#4d4d4d" stroke-width="0.25" textLength="26.0" lengthAdjust="spacingAndGlyphs" text-anchor="middle">11</text>
<path d="M3450 476.0h134a4 4 0 0 1 4 4v32a4 4 0 0 1 -4 4h-134z" fill="#2962ff"/>
<text x="3474.4" y="505.7" font-size="29.4" fill="#fff" stroke="#fff" stroke-width="0.25" textLength="100.6" lengthAdjust="spacingAndGlyphs">28452.6</text>
<path d="M3450 610.0h134a4 4 0 0 1 4 4v32a4 4 0 0 1 -4 4h-134z" fill="#2962ff"/>
<text x="3474.4" y="639.7" font-size="29.4" fill="#fff" stroke="#fff" stroke-width="0.25" textLength="100.6" lengthAdjust="spacingAndGlyphs">28189.9</text>
<path d="M3450 826.0h134a4 4 0 0 1 4 4v32a4 4 0 0 1 -4 4h-134z" fill="#2962ff"/>
<text x="3474.4" y="855.7" font-size="29.4" fill="#fff" stroke="#fff" stroke-width="0.25" textLength="100.6" lengthAdjust="spacingAndGlyphs">27675.8</text>
<path d="M25 558H3328" stroke="#0f9f8a" stroke-width="2" stroke-dasharray="2 4"/>
<path d="M3332 538.4h116v39.4h-116a4 4 0 0 1 -4 -4v-31.4a4 4 0 0 1 4 -4z" fill="#26a69a"/>
<text x="3341.0" y="567.9" font-size="29.4" fill="#fff" stroke="#fff" stroke-width="0.25" textLength="94.0" lengthAdjust="spacingAndGlyphs">BTCUSD</text>
<path d="M3450 538.5h134a4 4 0 0 1 4 4v63.5a4 4 0 0 1 -4 4h-134z" fill="#26a69a"/>
<text x="3474.4" y="568.0" font-size="29.4" fill="#fff" stroke="#fff" stroke-width="0.25" textLength="100.6" lengthAdjust="spacingAndGlyphs">28313.0</text>
<text x="3477.6" y="599.0" font-size="29.4" fill="#bfe4e0" stroke="#bfe4e0" stroke-width="0.25" textLength="66.5" lengthAdjust="spacingAndGlyphs">13:09</text>
<g transform="translate(25.2 1608.6) scale(1.37)" fill="#131722"><path d="M14 22H7V11H0V4h14v18zM28 22h-8l7.5-18h8L28 22z"/><circle cx="20" cy="8" r="4"/></g>
<text x="81.9" y="1640.4" font-size="34" fill="#131722" stroke="#131722" stroke-width="0.25" textLength="177.8" lengthAdjust="spacingAndGlyphs">TradingView</text>
</svg>
</body></html>
